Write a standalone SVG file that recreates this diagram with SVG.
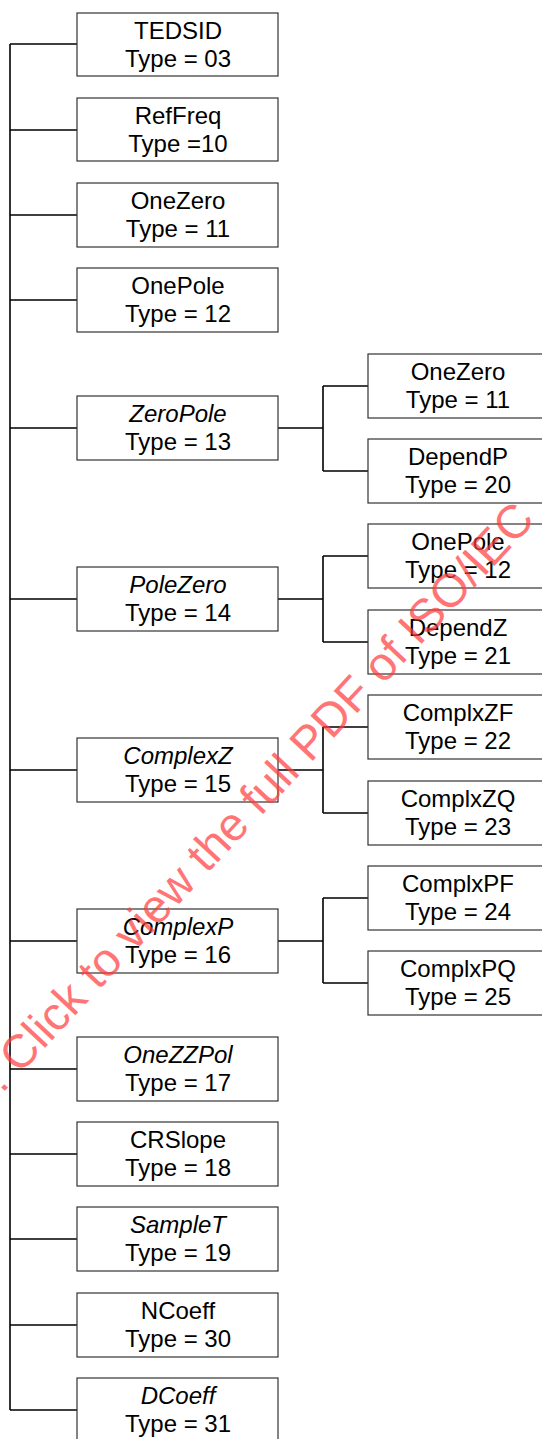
<svg xmlns="http://www.w3.org/2000/svg" width="542" height="1439" viewBox="0 0 542 1439">
<style>
.box{fill:#fff;stroke:#333;stroke-width:1.2}
.t{font-family:"Liberation Sans",Arial,sans-serif;font-size:24px;fill:#000;text-anchor:middle}
.i{font-style:italic}
.c{fill:none;stroke:#000;stroke-width:1.6}
.wm{font-family:"Liberation Sans",Arial,sans-serif;font-size:47px;fill:#ff3c3c;opacity:0.7}
</style>
<rect width="542" height="1439" fill="#fff"/>
<g id="connectors">
<path class="c" d="M10 44 V1410"/>
<path class="c" d="M10 44 H77 M10 130 H77 M10 215 H77 M10 300 H77 M10 428 H77 M10 599 H77 M10 770 H77 M10 941 H77 M10 1069 H77 M10 1154 H77 M10 1239 H77 M10 1325 H77 M10 1410 H77"/>
<path class="c" d="M278 428 H323 M323 386 V471 M323 386 H368 M323 471 H368"/>
<path class="c" d="M278 599 H323 M323 556 V642 M323 556 H368 M323 642 H368"/>
<path class="c" d="M278 770 H323 M323 727 V813 M323 727 H368 M323 813 H368"/>
<path class="c" d="M278 941 H323 M323 898 V983 M323 898 H368 M323 983 H368"/>
</g>
<g id="n-tedsid"><rect class="box" x="77" y="13" width="201" height="63"/><text class="t" x="178" y="39">TEDSID</text><text class="t" x="178" y="67">Type = 03</text></g>
<g id="n-reffreq"><rect class="box" x="77" y="98" width="201" height="63"/><text class="t" x="178" y="124">RefFreq</text><text class="t" x="178" y="152">Type =10</text></g>
<g id="n-onezero"><rect class="box" x="77" y="183" width="201" height="64"/><text class="t" x="178" y="209">OneZero</text><text class="t" x="178" y="237">Type = 11</text></g>
<g id="n-onepole"><rect class="box" x="77" y="268" width="201" height="64"/><text class="t" x="178" y="294">OnePole</text><text class="t" x="178" y="322">Type = 12</text></g>
<g id="n-zeropole"><rect class="box" x="77" y="396" width="201" height="64"/><text class="t i" x="178" y="422">ZeroPole</text><text class="t" x="178" y="450">Type = 13</text></g>
<g id="n-polezero"><rect class="box" x="77" y="567" width="201" height="64"/><text class="t i" x="178" y="593">PoleZero</text><text class="t" x="178" y="621">Type = 14</text></g>
<g id="n-complexz"><rect class="box" x="77" y="738" width="201" height="64"/><text class="t i" x="178" y="764">ComplexZ</text><text class="t" x="178" y="792">Type = 15</text></g>
<g id="n-complexp"><rect class="box" x="77" y="909" width="201" height="64"/><text class="t i" x="178" y="935">ComplexP</text><text class="t" x="178" y="963">Type = 16</text></g>
<g id="n-onezzpol"><rect class="box" x="77" y="1037" width="201" height="64"/><text class="t i" x="178" y="1063">OneZZPol</text><text class="t" x="178" y="1091">Type = 17</text></g>
<g id="n-crslope"><rect class="box" x="77" y="1122" width="201" height="64"/><text class="t" x="178" y="1148">CRSlope</text><text class="t" x="178" y="1176">Type = 18</text></g>
<g id="n-samplet"><rect class="box" x="77" y="1207" width="201" height="64"/><text class="t i" x="178" y="1233">SampleT</text><text class="t" x="178" y="1261">Type = 19</text></g>
<g id="n-ncoeff"><rect class="box" x="77" y="1293" width="201" height="64"/><text class="t" x="178" y="1319">NCoeff</text><text class="t" x="178" y="1347">Type = 30</text></g>
<g id="n-dcoeff"><rect class="box" x="77" y="1378" width="201" height="64"/><text class="t i" x="178" y="1404">DCoeff</text><text class="t" x="178" y="1432">Type = 31</text></g>
<g id="n-onezero2"><rect class="box" x="368" y="354" width="201" height="64"/><text class="t" x="458" y="380">OneZero</text><text class="t" x="458" y="408">Type = 11</text></g>
<g id="n-dependp"><rect class="box" x="368" y="439" width="201" height="64"/><text class="t" x="458" y="465">DependP</text><text class="t" x="458" y="493">Type = 20</text></g>
<g id="n-onepole2"><rect class="box" x="368" y="524" width="201" height="64"/><text class="t" x="458" y="550">OnePole</text><text class="t" x="458" y="578">Type = 12</text></g>
<g id="n-dependz"><rect class="box" x="368" y="610" width="201" height="64"/><text class="t" x="458" y="636">DependZ</text><text class="t" x="458" y="664">Type = 21</text></g>
<g id="n-complxzf"><rect class="box" x="368" y="695" width="201" height="64"/><text class="t" x="458" y="721">ComplxZF</text><text class="t" x="458" y="749">Type = 22</text></g>
<g id="n-complxzq"><rect class="box" x="368" y="781" width="201" height="64"/><text class="t" x="458" y="807">ComplxZQ</text><text class="t" x="458" y="835">Type = 23</text></g>
<g id="n-complxpf"><rect class="box" x="368" y="866" width="201" height="64"/><text class="t" x="458" y="892">ComplxPF</text><text class="t" x="458" y="920">Type = 24</text></g>
<g id="n-complxpq"><rect class="box" x="368" y="951" width="201" height="64"/><text class="t" x="458" y="977">ComplxPQ</text><text class="t" x="458" y="1005">Type = 25</text></g>
<text class="wm" transform="translate(2 1094) rotate(-47)">. Click to view the full PDF of ISO/IEC</text>
</svg>
